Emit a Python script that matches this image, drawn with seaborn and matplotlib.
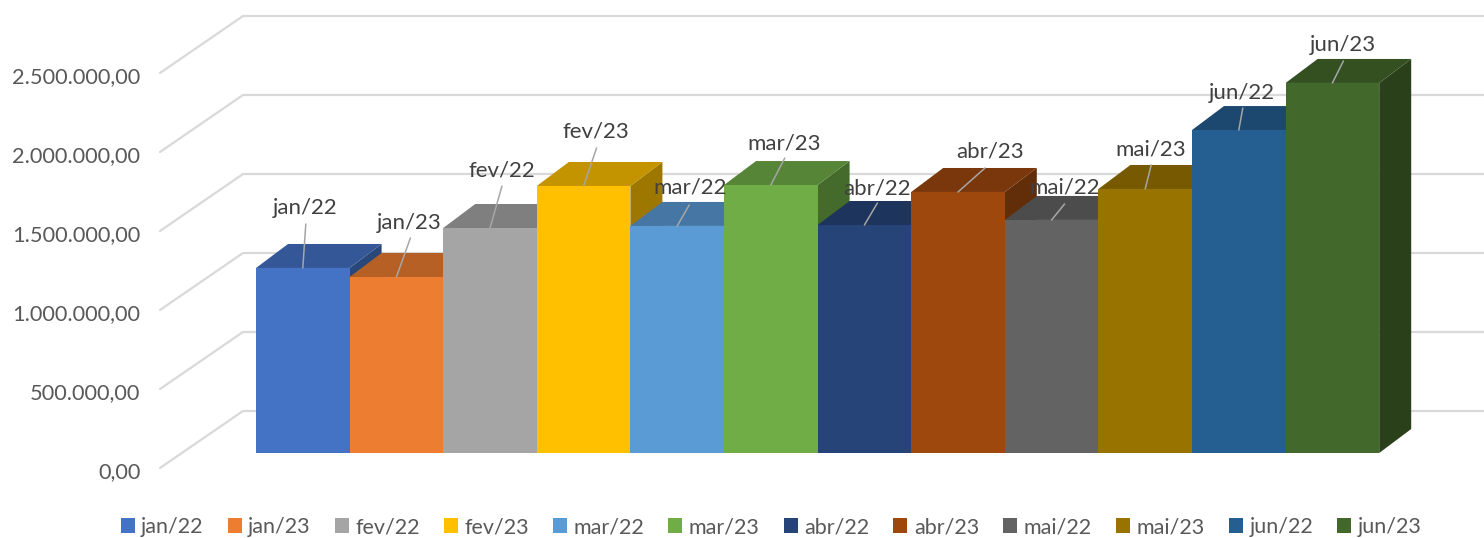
import numpy as np
import pandas as pd
import seaborn as sns
import matplotlib
matplotlib.use("Agg")
import matplotlib.pyplot as plt
from matplotlib.patches import Patch
from matplotlib.transforms import ScaledTranslation

periods = ["jan/22", "jan/23", "fev/22", "fev/23", "mar/22", "mar/23",
           "abr/22", "abr/23", "mai/22", "mai/23", "jun/22", "jun/23"]
values = [1171000, 1114000, 1424000, 1690000, 1437000, 1696000,
          1443000, 1652000, 1475000, 1671000, 2044000, 2342000]
colors = ["#4472C4", "#ED7D31", "#A5A5A5", "#FFC000", "#5B9BD5", "#70AD47",
          "#264478", "#9E480E", "#636363", "#997300", "#255E91", "#43682B"]
ticks = [0, 500000, 1000000, 1500000, 2000000, 2500000]
tick_labels = ["0,00", "500.000,00", "1.000.000,00", "1.500.000,00",
               "2.000.000,00", "2.500.000,00"]
# label offsets from the bar's top-centre, in pixels
label_dx = [2, 13, 12, 12, 13, 13, 13, 32, 13, 5, 3, 10]
label_dy = [60, 54, 58, 54, 38, 42, 37, 40, 32, 39, 37, 38]
line_dx = [3, 14, 12, 13, 12, 14, 13, 27, 13, 6, 4, 11]
line_dy = [44, 39, 42, 38, 21, 27, 22, 24, 16, 24, 22, 22]

W, H = 1484, 538
PX_BAR = 93.6          # pixels per category
PX_VAL = 79 / 500000   # pixels per unit of value
BASE_Y = 453           # pixel row of the value 0 at the bar front
BAR_X0 = 256           # pixel column of the first bar's left edge
AX_L = 150             # pixel column of the axes' left edge

sns.set_style("white")
plt.rcParams["font.family"] = ["Lato", "DejaVu Sans"]

fig = plt.figure(figsize=(W / 100, H / 100), dpi=100)
ax = fig.add_axes([AX_L / W, 0, 1 - AX_L / W, 1])

def xd(px):
    return (px - BAR_X0) / PX_BAR - 0.5

def dpx(n):
    return n / PX_VAL

df = pd.DataFrame({"periodo": periods, "valor": values})
sns.barplot(data=df, x="periodo", y="valor", hue="periodo", order=periods,
            hue_order=periods, palette=colors, dodge=False, width=1.0,
            saturation=1, legend=False, ax=ax, zorder=50, linewidth=0, edgecolor="none")
ax.set_xlim(xd(AX_L), xd(W))
ax.set_ylim(dpx(BASE_Y - H), dpx(BASE_Y))
ax.set_xlabel("")
ax.set_ylabel("")
ax.set_xticks([])

# walls: gridlines running along the side wall and then the back wall
wall_front_x, wall_back_x = xd(160), xd(243)
front_off, back_off = dpx(-15), dpx(42)
for t in ticks:
    ax.plot([wall_front_x, wall_back_x, xd(W)],
            [t + front_off, t + back_off, t + back_off],
            color="#D9D9D9", lw=1.6, zorder=1, solid_joinstyle="miter")

# the 3D depth of each bar
ddx, ddy = 32 / PX_BAR, dpx(24)
def shade(c, f):
    r, g, b = matplotlib.colors.to_rgb(c)
    return (r * f, g * f, b * f)

for i, (v, c) in enumerate(zip(values, colors)):
    l, r = i - 0.5, i + 0.5
    z = 2 + i
    ax.fill([r, r + ddx, r + ddx, r], [0, ddy, v + ddy, v],
            color=shade(c, 0.62), lw=0, zorder=z)
    ax.fill([l, r, r + ddx, l + ddx], [v, v, v + ddy, v + ddy],
            color=shade(c, 0.77), lw=0, zorder=z + 0.5)

# data labels with leader lines
for i, (v, p) in enumerate(zip(values, periods)):
    ax.annotate("", xy=(i, v), xycoords="data",
                xytext=(line_dx[i], line_dy[i]), textcoords="offset pixels",
                arrowprops=dict(arrowstyle="-", color="#A6A6A6", lw=1.1,
                                shrinkA=0, shrinkB=0), zorder=60)
    ax.annotate(p, xy=(i, v), xycoords="data",
                xytext=(label_dx[i], label_dy[i]), textcoords="offset pixels",
                ha="center", va="center", fontsize=16, color="#404040", zorder=61)

# value axis sits at the wall's front edge
ax.set_yticks([t + front_off for t in ticks], tick_labels)
ax.tick_params(axis="y", length=0, pad=7, labelsize=15.7, labelcolor="#595959")
nudge = ScaledTranslation(0, -2 / 100, fig.dpi_scale_trans)
for lab in ax.get_yticklabels():
    lab.set_transform(lab.get_transform() + nudge)
sns.despine(ax=ax, left=True, bottom=True, right=True, top=True)

handles = [Patch(facecolor=c, label=p, lw=0) for p, c in zip(periods, colors)]
fig.legend(handles=handles, ncol=12, loc="center", bbox_to_anchor=(771 / W, 1 - 527 / H),
           frameon=False, fontsize=15.5, labelcolor="#595959",
           handlelength=0.65, handleheight=0.65, handletextpad=0.3, columnspacing=1.12,
           borderpad=0, borderaxespad=0)

fig.savefig("out.png", dpi=100)
